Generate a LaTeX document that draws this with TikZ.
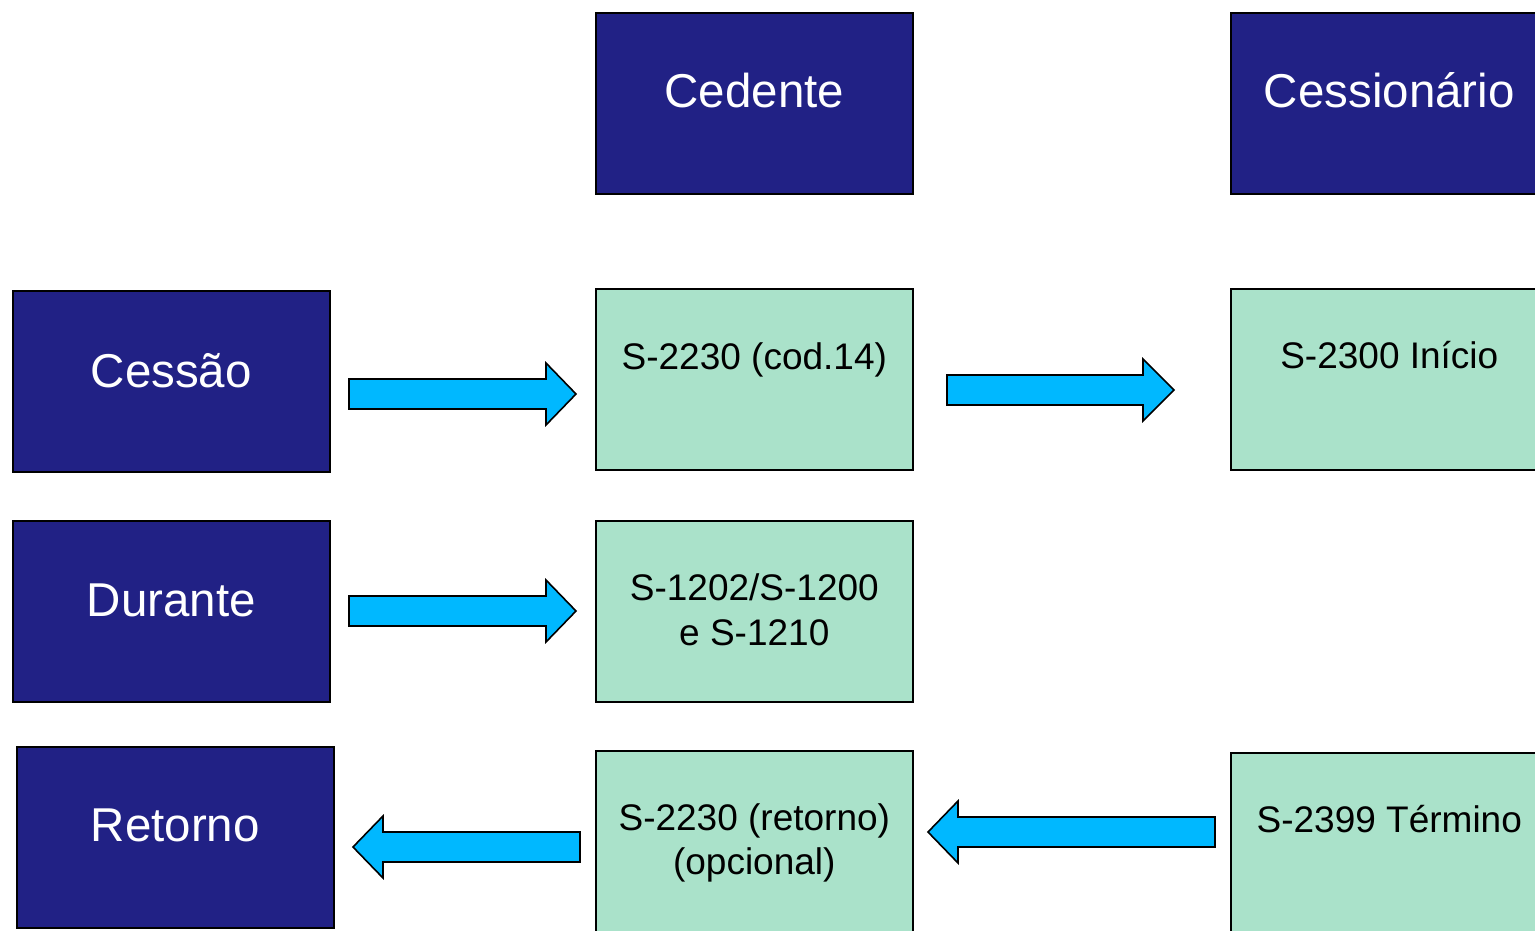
\documentclass[tikz,border=0pt]{standalone}
\usepackage{fontspec}
\setmainfont{Liberation Sans}
\definecolor{navyblue}{RGB}{33,33,133}
\definecolor{mintgreen}{RGB}{170,226,202}
\definecolor{arrowcyan}{RGB}{0,184,255}
\begin{document}
\begin{tikzpicture}[x=1pt,y=-1pt,
  boxbase/.style={draw=black, line width=1.6pt, minimum width=317pt, minimum height=181pt, inner sep=0pt, anchor=north west},
  darkbox/.style={boxbase, fill=navyblue},
  greenbox/.style={boxbase, fill=mintgreen},
  bigtxt/.style={text=white, font=\fontsize{47.5}{57}\selectfont, inner sep=0pt, anchor=base},
  smalltxt/.style={text=black, font=\fontsize{37}{44}\selectfont, inner sep=0pt, anchor=base},
  barrow/.style={draw=black, line width=1.6pt, fill=arrowcyan, line join=miter}]
\useasboundingbox (0,0) rectangle (1535,930);
\clip (0,0) rectangle (1535,930);
\fill[white] (0,0) rectangle (1535,930);

% header boxes
\node[darkbox] (cedente) at (595,12) {};
\node[darkbox] (cessionario) at (1230,12) {};
% row boxes
\node[darkbox] (cessao) at (12,290) {};
\node[greenbox] (s2230) at (595,288) {};
\node[greenbox] (s2300) at (1230,288) {};
\node[darkbox] (durante) at (12,520) {};
\node[greenbox] (s1202) at (595,520) {};
\node[darkbox] (retorno) at (16,746) {};
\node[greenbox] (s2230r) at (595,750) {};
\node[greenbox] (s2399) at (1230,752) {};

% texts
\node[bigtxt] (tcedente) at (cedente.north |- 0,107) {Cedente};
\node[bigtxt] (tcessionario) at (cessionario.north |- 0,107) {Cessionário};
\node[bigtxt] (tcessao) at (cessao.north |- 0,387) {Cessão};
\node[bigtxt] (tdurante) at (durante.north |- 0,616) {Durante};
\node[bigtxt] (tretorno) at (retorno.north |- 0,841) {Retorno};
\node[smalltxt] (ts2230) at (s2230.north |- 0,369) {S-2230 (cod.14)};
\node[smalltxt] (ts2300) at (s2300.north |- 0,368) {S-2300 Início};
\node[smalltxt] (ts1202a) at (s1202.north |- 0,600) {S-1202/S-1200};
\node[smalltxt] (ts1202b) at (s1202.north |- 0,645) {e S-1210};
\node[smalltxt] (ts2230ra) at (s2230r.north |- 0,830) {S-2230 (retorno)};
\node[smalltxt] (ts2230rb) at (s2230r.north |- 0,874) {(opcional)};
\node[smalltxt] (ts2399) at (s2399.north |- 0,832) {S-2399 Término};

% block arrows
\draw[barrow] (349,379) -- (546,379) -- (546,363) -- (576,394) -- (546,425) -- (546,409) -- (349,409) -- cycle;
\draw[barrow] (947,375) -- (1143,375) -- (1143,359) -- (1174,390) -- (1143,421) -- (1143,405) -- (947,405) -- cycle;
\draw[barrow] (349,596) -- (546,596) -- (546,580) -- (576,611) -- (546,642) -- (546,626) -- (349,626) -- cycle;
\draw[barrow] (580,832) -- (383,832) -- (383,816) -- (353,847) -- (383,878) -- (383,862) -- (580,862) -- cycle;
\draw[barrow] (1215,817) -- (958,817) -- (958,801) -- (928,832) -- (958,863) -- (958,847) -- (1215,847) -- cycle;
\end{tikzpicture}
\end{document}
